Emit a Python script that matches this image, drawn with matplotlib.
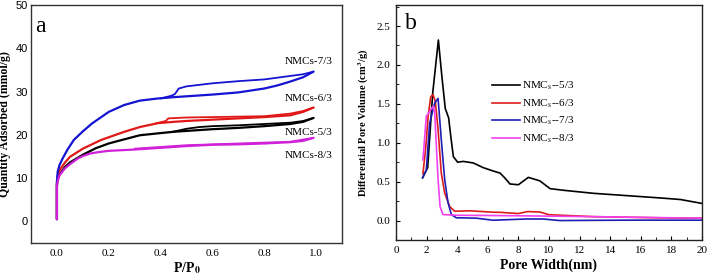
import matplotlib
matplotlib.use("Agg")
import matplotlib.pyplot as plt
from matplotlib.ticker import MultipleLocator

plt.rcParams['mathtext.fontset'] = 'stix'
SERIF = ['Liberation Serif', 'DejaVu Serif']
SANS = ['Liberation Sans', 'DejaVu Sans']

# ---------------- Panel a: N2 isotherms ----------------
labels_a = ["NMCs-5/3", "NMCs-6/3", "NMCs-7/3", "NMCs-8/3"]

p53_ads = [0.0, 0.0, 0.003, 0.01, 0.03, 0.05, 0.1, 0.15, 0.2, 0.25, 0.32, 0.4, 0.45, 0.5, 0.6, 0.7, 0.8, 0.9, 0.95, 0.99]
q53_ads = [0.5, 8.5, 9.8, 10.8, 12.5, 13.6, 15.4, 16.9, 18.0, 18.8, 19.9, 20.4, 20.7, 20.9, 21.3, 21.6, 22.0, 22.5, 23.0, 23.9]
p53_des = [0.99, 0.95, 0.9, 0.8, 0.7, 0.6, 0.55, 0.5, 0.47, 0.44]
q53_des = [23.9, 23.2, 22.8, 22.5, 22.2, 22.0, 21.8, 21.4, 21.0, 20.6]

p63_ads = [0.0, 0.0, 0.003, 0.01, 0.03, 0.05, 0.1, 0.17, 0.26, 0.32, 0.39, 0.45, 0.5, 0.6, 0.7, 0.8, 0.9, 0.95, 0.99]
q63_ads = [0.5, 9.0, 10.5, 11.8, 13.5, 14.9, 16.8, 18.8, 20.7, 21.8, 22.7, 23.0, 23.2, 23.5, 23.8, 24.1, 24.5, 25.3, 26.3]
p63_des = [0.99, 0.95, 0.9, 0.8, 0.6, 0.5, 0.43, 0.42, 0.4, 0.38]
q63_des = [26.3, 25.5, 24.9, 24.3, 24.1, 24.0, 23.8, 23.2, 22.9, 22.6]

p73_ads = [0.0, 0.0, 0.003, 0.01, 0.02, 0.04, 0.065, 0.1, 0.135, 0.2, 0.26, 0.32, 0.39, 0.45, 0.5, 0.6, 0.7, 0.8, 0.85, 0.9, 0.95, 0.99]
q73_ads = [0.5, 9.0, 11.5, 13.0, 14.3, 16.5, 18.8, 20.8, 22.6, 25.3, 26.9, 27.9, 28.4, 28.7, 28.9, 29.3, 29.8, 30.7, 31.4, 32.3, 33.3, 34.6]
p73_des = [0.99, 0.95, 0.9, 0.8, 0.7, 0.6, 0.5, 0.47, 0.455, 0.44, 0.4]
q73_des = [34.6, 34.0, 33.6, 32.8, 32.4, 31.9, 31.2, 30.7, 29.4, 29.0, 28.4]

p83_ads = [0.0, 0.0, 0.003, 0.01, 0.03, 0.05, 0.08, 0.1, 0.13, 0.16, 0.2, 0.3, 0.4, 0.5, 0.6, 0.7, 0.8, 0.9, 0.95, 0.99]
q83_ads = [0.5, 8.0, 9.3, 10.6, 12.2, 13.2, 14.5, 15.1, 15.7, 16.0, 16.3, 16.6, 17.0, 17.4, 17.7, 17.8, 18.0, 18.3, 18.6, 19.3]
p83_des = [0.99, 0.9, 0.7, 0.5, 0.4, 0.3]
q83_des = [19.3, 18.4, 18.0, 17.6, 17.2, 16.8]

label_pos_a = [(0.88, 20.6), (0.88, 28.5), (0.88, 37.0), (0.88, 15.3)]

# ---------------- Panel b: pore size distribution ----------------
labels_b = ["NMC$_\\mathrm{s}$--5/3", "NMC$_\\mathrm{s}$--6/3", "NMC$_\\mathrm{s}$--7/3", "NMC$_\\mathrm{s}$--8/3"]

w53 = [1.74, 2.07, 2.4, 2.77, 3.0, 3.22, 3.44, 3.6, 3.75, 4.03, 4.4, 5.05, 5.7, 6.3, 6.8, 7.1, 7.45, 8.0, 8.65, 9.4, 10.07, 10.9, 12.9, 15.1, 17.3, 18.6, 20.0]
v53 = [0.55, 0.68, 1.64, 2.32, 1.85, 1.44, 1.32, 1.05, 0.82, 0.75, 0.76, 0.74, 0.68, 0.64, 0.61, 0.55, 0.47, 0.46, 0.555, 0.51, 0.41, 0.39, 0.35, 0.32, 0.29, 0.27, 0.22]

w63 = [1.76, 1.95, 2.1, 2.27, 2.42, 2.57, 2.75, 2.96, 3.18, 3.51, 3.83, 4.84, 6.36, 6.9, 7.2, 8.0, 8.6, 9.4, 10.0, 12.9, 17.3, 20.0]
v63 = [0.6, 0.95, 1.34, 1.59, 1.62, 1.53, 1.17, 0.61, 0.355, 0.18, 0.12, 0.125, 0.107, 0.105, 0.10, 0.09, 0.115, 0.11, 0.075, 0.05, 0.035, 0.03]

w73 = [1.74, 1.98, 2.2, 2.53, 2.75, 2.96, 3.18, 3.4, 3.62, 3.94, 4.2, 5.27, 6.35, 8.5, 9.6, 10.7, 15.1, 20.0]
v73 = [0.55, 0.65, 1.25, 1.51, 1.57, 1.04, 0.53, 0.23, 0.077, 0.035, 0.035, 0.03, 0.004, 0.02, 0.02, 0.0, 0.005, 0.005]

w83 = [1.76, 1.98, 2.2, 2.42, 2.53, 2.64, 2.75, 2.88, 3.07, 3.96, 6.0, 8.5, 10.7, 12.9, 20.0]
v83 = [0.78, 1.34, 1.40, 1.47, 1.40, 0.95, 0.53, 0.18, 0.077, 0.068, 0.065, 0.06, 0.055, 0.05, 0.03]

colors_a = ["#000000", "#e01818", "#1414d2", "#d020d8"]
colors_b = ["#000000", "#dc1c1c", "#1e1eb4", "#f040f0"]

fig = plt.figure(figsize=(7.09, 2.78), dpi=100)

# ---- Panel a ----
ax1 = fig.add_axes([31/709, 35/278, 311/709, 238/278])
series_a = [(p53_ads, q53_ads, p53_des, q53_des),
            (p63_ads, q63_ads, p63_des, q63_des),
            (p73_ads, q73_ads, p73_des, q73_des),
            (p83_ads, q83_ads, p83_des, q83_des)]
for (pa, qa, pd, qd), c in zip(series_a, colors_a):
    ax1.plot(pa, qa, color=c, lw=1.6, solid_capstyle='round')
    ax1.plot(pd, qd, color=c, lw=1.3, solid_capstyle='round')
for lab, (x, y) in zip(labels_a, label_pos_a):
    ax1.text(x, y, lab, fontsize=8, family=SERIF, ha='left', va='center')
ax1.set_xlim(-0.1, 1.1)
ax1.set_ylim(-5, 50)
ax1.set_xticks([0.0, 0.2, 0.4, 0.6, 0.8, 1.0])
ax1.set_xticklabels(["0.0", "0.2", "0.4", "0.6", "0.8", "1.0"], family=SERIF, fontsize=8)
ax1.set_yticks([0, 10, 20, 30, 40, 50])
ax1.set_yticklabels(["0", "10", "20", "30", "40", "50"], family=SANS, fontsize=8)
ax1.tick_params(axis='x', length=0, pad=4)
ax1.tick_params(axis='y', length=0, pad=2.2)
for s in ax1.spines.values():
    s.set_color('#333333')
    s.set_linewidth(1.0)
ax1.set_ylabel("Quantity Adsorbed (mmol/g)", family=SERIF, fontweight='bold', fontsize=8.5)
ax1.yaxis.set_label_coords(-0.063, 0.5)
ax1.set_xlabel("P/P$_\\mathbf{0}$", family=SERIF, fontweight='bold', fontsize=10, labelpad=2)
ax1.text(0.012, 0.955, "a", transform=ax1.transAxes, family=SERIF, fontsize=17, ha='left', va='top')

# ---- Panel b ----
ax2 = fig.add_axes([396/709, 38/278, 306/709, 235/278])
for (w, v), c, lab in zip([(w53, v53), (w63, v63), (w73, v73), (w83, v83)], colors_b, labels_b):
    ax2.plot(w, v, color=c, lw=1.2, label=lab)
ax2.set_xlim(0, 20)
ax2.set_ylim(-0.25, 2.77)
ax2.xaxis.set_major_locator(MultipleLocator(2))
ax2.xaxis.set_minor_locator(MultipleLocator(1))
ax2.yaxis.set_major_locator(MultipleLocator(0.5))
ax2.yaxis.set_minor_locator(MultipleLocator(0.25))
ax2.set_yticks([0.0, 0.5, 1.0, 1.5, 2.0, 2.5])
ax2.set_yticklabels(["0.0", "0.5", "1.0", "1.5", "2.0", "2.5"], family=SERIF, fontsize=8)
ax2.set_xticks([0, 2, 4, 6, 8, 10, 12, 14, 16, 18, 20])
ax2.set_xticklabels([str(t) for t in [0, 2, 4, 6, 8, 10, 12, 14, 16, 18, 20]], family=SERIF, fontsize=8)
ax2.tick_params(which='major', direction='in', length=3, width=0.8, pad=4)
ax2.tick_params(which='minor', direction='in', length=2, width=0.6)
for s in ax2.spines.values():
    s.set_color('#222222')
    s.set_linewidth(1.0)
ax2.set_ylabel("Differential Pore Volume (cm$^\\mathbf{3}$/g)", family=SERIF, fontweight='bold', fontsize=7.5, labelpad=4)
ax2.set_xlabel("Pore Width(nm)", family=SERIF, fontweight='bold', fontsize=10, labelpad=3)
ax2.text(0.03, 0.965, "b", transform=ax2.transAxes, family=SERIF, fontsize=17, ha='left', va='top')
ax2.legend(loc='upper left', bbox_to_anchor=(0.30, 0.70), frameon=False,
           prop={'family': SERIF, 'size': 8}, handlelength=2.5, handletextpad=0.2,
           labelspacing=0.45, borderaxespad=0)

fig.savefig("out.png", dpi=100)
